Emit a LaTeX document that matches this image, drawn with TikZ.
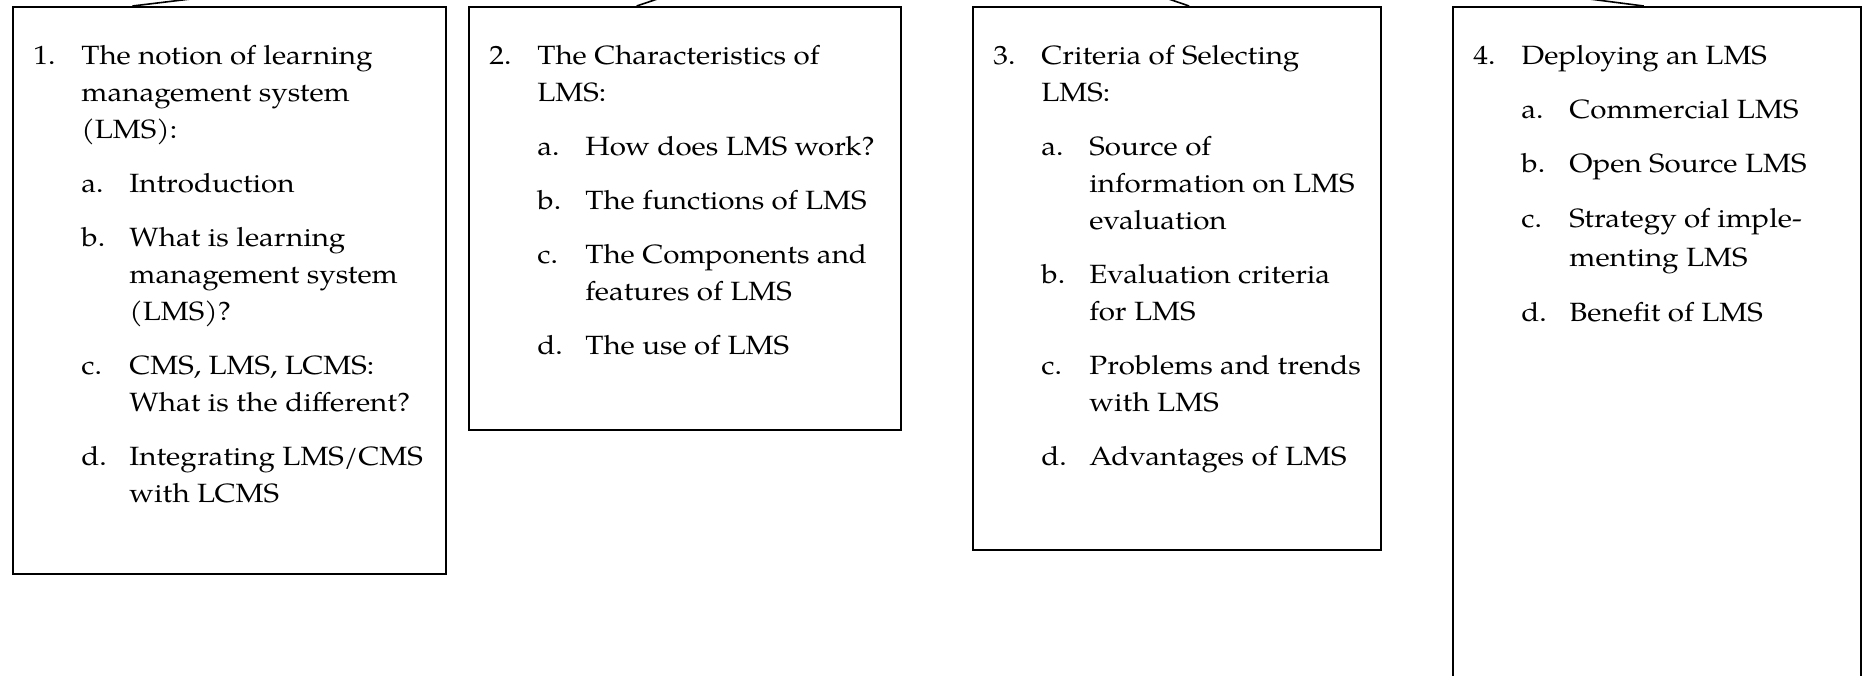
\documentclass[tikz,border=0pt]{standalone}
\usepackage{fontspec}
\setmainfont{TeX Gyre Pagella}[FakeStretch=1.12]
\usetikzlibrary{calc}

% numbered topic and lettered sub-topic, each a paragraph with a hanging label
\newcommand\topicline[2]{\hangindent=24pt\hangafter=1\makebox[24pt][l]{#1}#2\par}
\newcommand\subtopicline[2]{\hangindent=48pt\hangafter=1\hspace*{24pt}\makebox[24pt][l]{#1}#2\par}
\newcommand\topicblock[2][8.5pt]{\parbox[t]{230pt}{\setlength\parindent{0pt}\setlength\parskip{#1}#2}}

\tikzset{
  box/.style={draw=black, line width=0.8pt, fill=white, inner sep=0pt, anchor=north west},
  itemtext/.style={inner sep=0pt, anchor=base west, font=\fontsize{13.2}{18.5}\selectfont},
  widetext/.style={itemtext, font=\fontsize{13.2}{19.8}\selectfont},
  link/.style={draw=black, line width=0.8pt},
}

\begin{document}
\begin{tikzpicture}[x=0.5pt, y=-0.5pt]
  \useasboundingbox (0,0) rectangle (1866,675);
  \clip (0,0) rectangle (1866,675);

  % parent of the four topics sits above the visible area
  \coordinate (root) at (915,-88);

  % topic boxes
  \node[box, minimum width=216.5pt, minimum height=283.5pt] (b1) at (12,6) {};
  \node[box, minimum width=216pt,   minimum height=211.5pt] (b2) at (468,6) {};
  \node[box, minimum width=204pt,   minimum height=271.5pt] (b3) at (972,6) {};
  \node[box, minimum width=204pt,   minimum height=350pt]   (b4) at (1452,6) {};

  % where the connectors meet the box tops
  \coordinate (c1) at ($(b1.north west)!0.277!(b1.north east)$);
  \coordinate (c2) at ($(b2.north west)!0.389!(b2.north east)$);
  \coordinate (c3) at ($(b3.north west)!0.530!(b3.north east)$);
  \coordinate (c4) at ($(b4.north west)!0.468!(b4.north east)$);

  \draw[link] (root) -- (c1);
  \draw[link] (root) -- (c2);
  \draw[link] (root) -- (c3);
  \draw[link] (root) -- (c4);

  % box contents
  \node[itemtext] (t1) at (33,64) {\topicblock{%
    \topicline{1.}{The notion of learning\\management system\\(LMS):}
    \subtopicline{a.}{Introduction}
    \subtopicline{b.}{What is learning\\management system\\(LMS)?}
    \subtopicline{c.}{CMS, LMS, LCMS:\\What is the different?}
    \subtopicline{d.}{Integrating LMS/CMS\\with LCMS}}};

  \node[itemtext] (t2) at (489,64) {\topicblock{%
    \topicline{2.}{The Characteristics of\\LMS:}
    \subtopicline{a.}{How does LMS work?}
    \subtopicline{b.}{The functions of LMS}
    \subtopicline{c.}{The Components and\\features of LMS}
    \subtopicline{d.}{The use of LMS}}};

  \node[itemtext] (t3) at (993,64) {\topicblock{%
    \topicline{3.}{Criteria of Selecting\\LMS:}
    \subtopicline{a.}{Source of\\information on LMS\\evaluation}
    \subtopicline{b.}{Evaluation criteria\\for LMS}
    \subtopicline{c.}{Problems and trends\\with LMS}
    \subtopicline{d.}{Advantages of LMS}}};

  \node[widetext] (t4) at (1473,64) {\topicblock[7.4pt]{%
    \topicline{4.}{Deploying an LMS}
    \subtopicline{a.}{Commercial LMS}
    \subtopicline{b.}{Open Source LMS}
    \subtopicline{c.}{Strategy of imple-\\menting LMS}
    \subtopicline{d.}{Benefit of LMS}}};
\end{tikzpicture}
\end{document}
